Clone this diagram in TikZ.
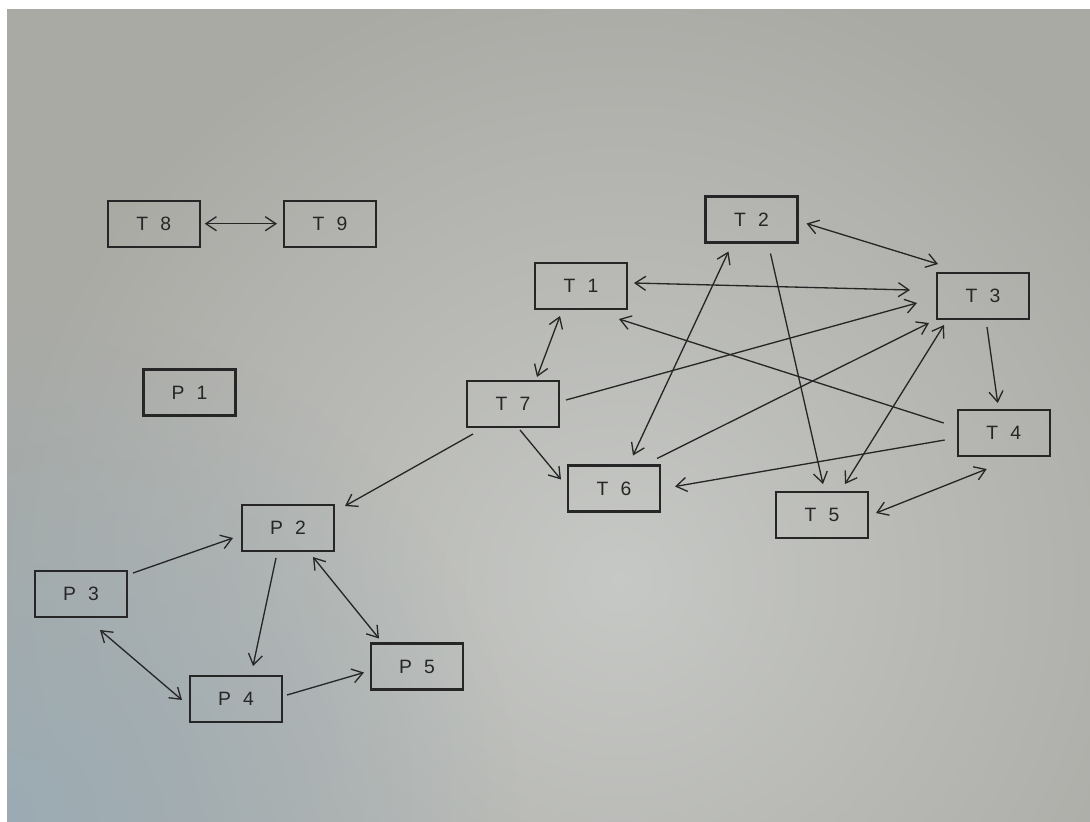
\documentclass[tikz,border=0pt]{standalone}
\usepackage{fontspec}
\setsansfont{Liberation Sans}
\usetikzlibrary{arrows.meta,calc,fadings}
\definecolor{ink}{RGB}{38,38,38}
\definecolor{paper}{RGB}{170,170,165}
\definecolor{paperlight}{RGB}{198,200,197}
\definecolor{paperblue}{RGB}{156,172,180}
\tikzfading[name=softdisc,inner color=transparent!0,outer color=transparent!100]
\newcommand\boxlbl[2]{#1\hspace{7pt}#2}
\begin{document}
\begin{tikzpicture}[x=0.02cm,y=-0.02cm,
  box/.style={draw=ink,line width=1.3pt,minimum width=1.84cm,minimum height=0.92cm,inner sep=0pt,
    font=\sffamily\fontsize{11}{11}\selectfont,text=ink},
  arr/.style={draw=ink,line width=0.75pt,-{Straight Barb[length=6pt,width=8pt]}},
  darr/.style={draw=ink,line width=0.75pt,{Straight Barb[length=6pt,width=8pt]}-{Straight Barb[length=6pt,width=8pt]}}]
\fill[white] (0,0) rectangle (1090,822);
\useasboundingbox (0,0) rectangle (1090,822);
\begin{scope}
\clip (7,9) rectangle (1090,822);
\fill[paper] (7,9) rectangle (1090,822);
\shade[inner color=paperlight,outer color=paper] (620,580) circle (620);
\fill[paperblue,path fading=softdisc] (0,822) circle (520);
\end{scope}
% nodes
\node[box] (T8) at (153.7,223.7) {\boxlbl{T}{8}};
\node[box] (T9) at (330,223.7) {\boxlbl{T}{9}};
\node[box] (P1) at (189.5,392.5) {\boxlbl{P}{1}};
\node[box] (T1) at (581,286) {\boxlbl{T}{1}};
\node[box] (T2) at (751.5,219.5) {\boxlbl{T}{2}};
\node[box] (T3) at (983,296) {\boxlbl{T}{3}};
\node[box] (T7) at (513,404) {\boxlbl{T}{7}};
\node[box] (T6) at (614,488.5) {\boxlbl{T}{6}};
\node[box] (T4) at (1003.7,433) {\boxlbl{T}{4}};
\node[box] (T5) at (822,515) {\boxlbl{T}{5}};
\node[box] (P2) at (288,528) {\boxlbl{P}{2}};
\node[box] (P3) at (81,594) {\boxlbl{P}{3}};
\node[box] (P4) at (236,699) {\boxlbl{P}{4}};
\node[box] (P5) at (417,666.5) {\boxlbl{P}{5}};
% connectors
\draw[darr] ($(T8)+(51,0)$) -- ($(T9)+(-53,0)$);
\draw[darr] ($(T1)+(53,-3)$) -- ($(T3)+(-73,-6)$);
\draw[arr] ($(T4)+(-60,-10)$) -- ($(T1)+(38,33)$);
\draw[darr] ($(T1)+(-21,30)$) -- ($(T7)+(24,-27)$);
\draw[darr] ($(T2)+(-23,32)$) -- ($(T6)+(19,-33)$);
\draw[arr] ($(T2)+(19,34)$) -- ($(T5)+(1,-31)$);
\draw[darr] ($(T2)+(55,4)$) -- ($(T3)+(-45,-32)$);
\draw[arr] ($(T7)+(53,-4)$) -- ($(T3)+(-66,7)$);
\draw[arr] ($(T6)+(43,-30)$) -- ($(T3)+(-54,27)$);
\draw[darr] ($(T3)+(-39,29)$) -- ($(T5)+(23,-31)$);
\draw[arr] ($(T3)+(4,31)$) -- ($(T4)+(-6,-30)$);
\draw[arr] ($(T4)+(-59,7)$) -- ($(T6)+(61,-2)$);
\draw[darr] ($(T4)+(-17,36)$) -- ($(T5)+(54,-2)$);
\draw[arr] ($(T7)+(7,26)$) -- ($(T6)+(-53,-9)$);
\draw[arr] ($(T7)+(-40,30)$) -- ($(P2)+(57,-22)$);
\draw[arr] ($(P3)+(52,-21)$) -- ($(P2)+(-55,10)$);
\draw[arr] ($(P2)+(-12,30)$) -- ($(P4)+(17,-33)$);
\draw[darr] ($(P2)+(25,29)$) -- ($(P5)+(-38,-28)$);
\draw[darr] ($(P3)+(19,36)$) -- ($(P4)+(-54,1)$);
\draw[arr] ($(P4)+(51,-4)$) -- ($(P5)+(-53,6)$);
\end{tikzpicture}
\end{document}
